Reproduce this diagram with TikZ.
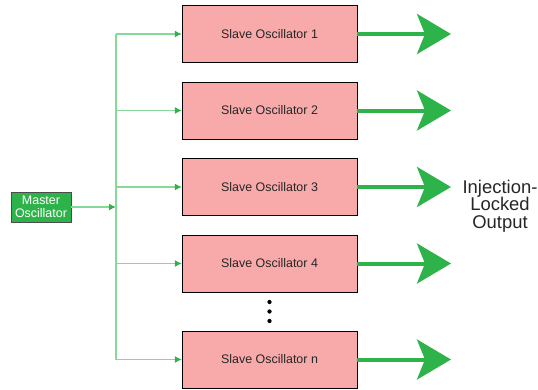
\documentclass[tikz,border=0pt]{standalone}
\usepackage{fontspec}
\setmainfont{Liberation Sans}
\usetikzlibrary{arrows.meta}

\definecolor{slavefill}{HTML}{F8AAAA}
\definecolor{masterfill}{HTML}{2DB34A}
\definecolor{feedline}{HTML}{86D996}
\definecolor{feedtip}{HTML}{2DB34A}
\definecolor{outgreen}{HTML}{2DB34A}

\tikzset{
    slave/.style={draw=black, fill=slavefill, minimum width=175bp, minimum height=57bp,
        inner sep=0pt, text=black!85, font=\fontsize{12.5}{12.5}\selectfont},
    master/.style={draw=black!70, fill=masterfill, minimum width=60bp, minimum height=30bp,
        inner sep=0pt, text=white, align=center, font=\fontsize{12.5}{12.5}\selectfont},
    feed/.style={draw=feedline, line width=1.2bp, -{Latex[length=7bp,width=7bp,color=feedtip]}},
    output/.style={draw=outgreen, line width=4bp, -{Stealth[length=34bp,width=40bp,inset=8bp]}},
}

\begin{document}
\begin{tikzpicture}[x=1bp, y=1bp]
    \useasboundingbox (0, 0) rectangle (538, 389);

    \path (41, 182) node [master] (mo) {Master\\Oscillator};
    \coordinate (trunk) at (116, 182);

    \path (269.5, 355) node [slave] (s1) {Slave Oscillator 1};
    \path (269.5, 278.5) node [slave] (s2) {Slave Oscillator 2};
    \path (269.5, 202) node [slave] (s3) {Slave Oscillator 3};
    \path (269.5, 125.5) node [slave] (s4) {Slave Oscillator 4};
    \path (269.5, 29.5) node [slave] (sn) {Slave Oscillator n};

    % master into the feed line
    \draw [feed] (mo.east) -- (trunk);
    \draw [draw=feedline, line width=1.2bp] (trunk |- s1.west) -- (trunk |- sn.west);
    \draw [feed] (trunk |- s1.west) -- (s1.west);
    \draw [feed] (trunk |- s2.west) -- (s2.west);
    \draw [feed] (trunk |- s3.west) -- (s3.west);
    \draw [feed] (trunk |- s4.west) -- (s4.west);
    \draw [feed] (trunk |- sn.west) -- (sn.west);

    % locked outputs
    \coordinate (out) at (451, 0);
    \draw [output] (s1.east) -- (out |- s1.east);
    \draw [output] (s2.east) -- (out |- s2.east);
    \draw [output] (s3.east) -- (out |- s3.east);
    \draw [output] (s4.east) -- (out |- s4.east);
    \draw [output] (sn.east) -- (out |- sn.east);

    \path (500, 183) node [align=center, text=black!85, inner sep=0pt,
        font=\fontsize{18.5}{17.5}\selectfont] (lbl) {Injection-\\Locked\\Output};

    % dots between box 4 and box n
    \path (269.5, 87) node [circle, fill=black, inner sep=1.5bp] (d1) {};
    \path (269.5, 77.5) node [circle, fill=black, inner sep=1.5bp] (d2) {};
    \path (269.5, 68) node [circle, fill=black, inner sep=1.5bp] (d3) {};
\end{tikzpicture}
\end{document}
